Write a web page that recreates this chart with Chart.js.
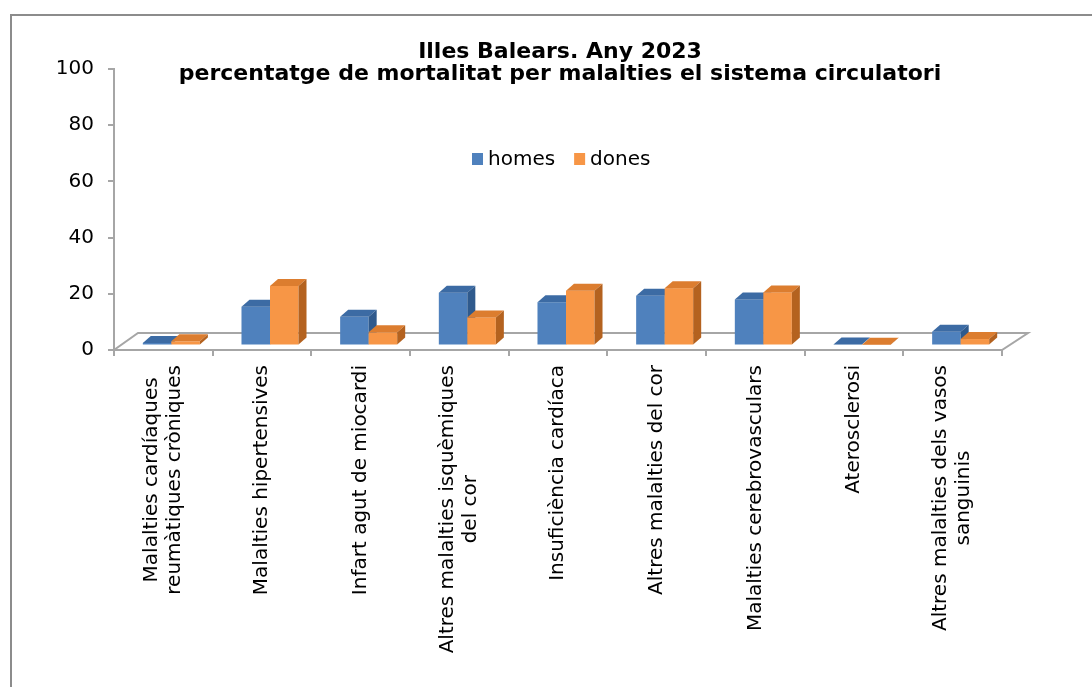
<!DOCTYPE html>
<html>
<head>
<meta charset="utf-8">
<script src="https://cdn.jsdelivr.net/npm/chart.js@4.4.1/dist/chart.umd.min.js"></script>
<style>
html, body { margin: 0; padding: 0; background: #fff; overflow: hidden; }
#wrap { position: relative; width: 1092px; height: 687px; }
#frame { position: absolute; left: 10px; top: 14px; width: 1200px; height: 800px; border: 2px solid #8c8c8c; box-sizing: border-box; }
canvas { position: absolute; left: 0; top: 0; }
</style>
</head>
<body>
<div id="wrap">
  <div id="frame"></div>
  <canvas id="chart" width="1092" height="687"></canvas>
</div>
<script>
// Data
const categories = [
    ['Malalties cardíaques', 'reumàtiques cròniques'],
    ['Malalties hipertensives'],
    ['Infart agut de miocardi'],
    ['Altres malalties isquèmiques', 'del cor'],
    ['Insuficiència cardíaca'],
    ['Altres malalties del cor'],
    ['Malalties cerebrovasculars'],
    ['Aterosclerosi'],
    ['Altres malalties dels vasos', 'sanguinis']
];
const homes = [0.9, 13.8, 10.2, 18.8, 15.4, 17.7, 16.4, 0.4, 4.9];
const dones = [1.5, 21.2, 4.7, 10.0, 19.5, 20.4, 18.9, 0.3, 2.3];
const yTicks = [0, 20, 40, 60, 80, 100];
const titleLines = ['Illes Balears. Any 2023', 'percentatge de mortalitat per malalties el sistema circulatori'];

// colours for the three faces of each bar: front, top, side
const faces = [
    { front: '#4f81bd', top: '#3c6ba4', side: '#2f5a8d' },
    { front: '#f79646', top: '#dc7d2f', side: '#b4621f' }
];

const FONT = 'DejaVu Sans';
const DEPTH_X = 8, DEPTH_Y = 7;     // depth of a bar
const SHIFT_X = 8, SHIFT_Y = -4.5;  // bars sit in the middle of the floor
const FLOOR_X = 25, FLOOR_Y = 17;   // depth of the floor

const bars3d = {
    id: 'bars3d',
    beforeDatasetsDraw(chart) {
        const { ctx, scales: { x, y } } = chart;
        const y0 = y.getPixelForValue(0);
        ctx.save();

        // floor
        ctx.fillStyle = '#fff';
        ctx.strokeStyle = '#a6a6a6';
        ctx.lineWidth = 2;
        ctx.beginPath();
        ctx.moveTo(x.left, y0);
        ctx.lineTo(x.right, y0);
        ctx.lineTo(x.right + FLOOR_X + 1, y0 - FLOOR_Y);
        ctx.lineTo(x.left + FLOOR_X - 1, y0 - FLOOR_Y);
        ctx.closePath();
        ctx.fill();
        ctx.stroke();

        const metas = chart.getSortedVisibleDatasetMetas();
        for (let i = 0; i < categories.length; i++) {
            metas.forEach((meta, d) => {
                const bar = meta.data[i];
                const p = bar.getProps(['x', 'y', 'base', 'width'], true);
                const l = p.x - p.width / 2 + SHIFT_X;
                const r = p.x + p.width / 2 + SHIFT_X;
                const t = p.y + SHIFT_Y;
                const b = p.base + SHIFT_Y;
                const f = faces[d];

                ctx.fillStyle = f.front;
                ctx.fillRect(l, t, r - l, b - t);

                ctx.fillStyle = f.top;
                ctx.beginPath();
                ctx.moveTo(l, t);
                ctx.lineTo(r, t);
                ctx.lineTo(r + DEPTH_X, t - DEPTH_Y);
                ctx.lineTo(l + DEPTH_X, t - DEPTH_Y);
                ctx.closePath();
                ctx.fill();

                ctx.fillStyle = f.side;
                ctx.beginPath();
                ctx.moveTo(r, t);
                ctx.lineTo(r + DEPTH_X, t - DEPTH_Y);
                ctx.lineTo(r + DEPTH_X, b - DEPTH_Y);
                ctx.lineTo(r, b);
                ctx.closePath();
                ctx.fill();
            });
        }
        ctx.restore();
        return false;
    },
    afterDraw(chart) {
        const { ctx, chartArea, scales: { x, y } } = chart;
        const y0 = y.getPixelForValue(0);
        ctx.save();
        ctx.fillStyle = '#000';

        // title
        const cx = (chartArea.left + chartArea.right) / 2 + 2;
        ctx.font = 'bold 22px "' + FONT + '"';
        ctx.textAlign = 'center';
        ctx.textBaseline = 'alphabetic';
        ctx.fillText(titleLines[0], cx, 58);
        ctx.fillText(titleLines[1], cx, 80);

        // legend
        ctx.font = '20px "' + FONT + '"';
        ctx.textAlign = 'left';
        ctx.textBaseline = 'middle';
        let lx = 472;
        chart.data.datasets.forEach((ds, d) => {
            ctx.fillStyle = faces[d].front;
            ctx.fillRect(lx, 153, 11, 12);
            ctx.fillStyle = '#000';
            ctx.fillText(ds.label, lx + 16, 160);
            lx += 16 + ctx.measureText(ds.label).width + 19;
        });

        // category labels, rotated, lines centred on each other
        const lineH = 23;
        categories.forEach((lines, i) => {
            const px = x.getPixelForTick(i);
            const maxW = Math.max(...lines.map(s => ctx.measureText(s).width));
            ctx.save();
            ctx.translate(px, y0);
            ctx.rotate(-Math.PI / 2);
            ctx.textAlign = 'center';
            lines.forEach((s, k) => {
                const off = (k - (lines.length - 1) / 2) * lineH;
                ctx.fillText(s, -(15 + maxW / 2), off);
            });
            ctx.restore();
        });
        ctx.restore();
    }
};

new Chart(document.getElementById('chart'), {
    type: 'bar',
    data: {
        labels: categories,
        datasets: [
            { label: 'homes', data: homes, backgroundColor: faces[0].front },
            { label: 'dones', data: dones, backgroundColor: faces[1].front }
        ]
    },
    options: {
        responsive: false,
        animation: false,
        events: [],
        categoryPercentage: 0.578,
        barPercentage: 1,
        layout: { padding: { top: 69, right: 90, bottom: 0, left: 0 } },
        plugins: {
            legend: { display: false },
            title: { display: false },
            tooltip: { enabled: false }
        },
        scales: {
            x: {
                afterFit(scale) { scale.height = 337; },
                ticks: { display: false },
                grid: { drawOnChartArea: false, tickLength: 6, color: '#a6a6a6', lineWidth: 2 },
                border: { color: '#a6a6a6', width: 2 }
            },
            y: {
                min: 0,
                max: 100,
                afterFit(scale) { scale.width = 114; },
                afterBuildTicks(scale) { scale.ticks = yTicks.map(v => ({ value: v })); },
                ticks: { color: '#000', padding: 14, font: { family: FONT, size: 20 } },
                grid: { drawOnChartArea: false, tickLength: 6, color: '#a6a6a6', lineWidth: 2 },
                border: { color: '#a6a6a6', width: 2 }
            }
        }
    },
    plugins: [bars3d]
});
</script>
</body>
</html>
